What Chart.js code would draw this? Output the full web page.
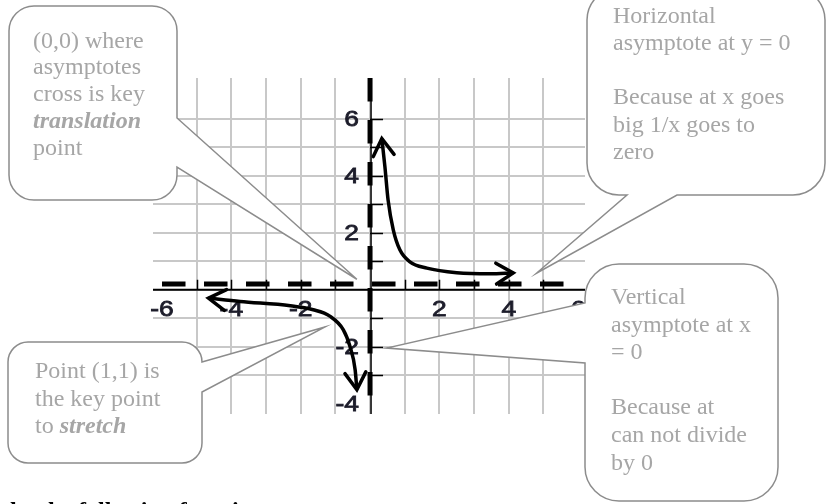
<!DOCTYPE html>
<html>
<head>
<meta charset="utf-8">
<script src="https://cdn.jsdelivr.net/npm/chart.js@4.4.0/dist/chart.umd.min.js"></script>
<style>
  body { margin: 0; background: #fff; }
  #wrap { position: relative; width: 831px; height: 504px; overflow: hidden; }
  #graph { position: absolute; left: 0; top: 0; }
  .note {
    position: absolute;
    font-family: "Liberation Serif", "Times New Roman", serif;
    font-size: 24px;
    color: #a6a6a6;
    white-space: pre;
  }
  .foot {
    position: absolute; left: 2px; top: 497px;
    font: bold 24px "Liberation Serif", serif;
    line-height: 27px; color: #000; white-space: pre;
  }
</style>
</head>
<body>
<div id="wrap">
  <canvas id="graph" width="831" height="504"></canvas>
  <div class="note" style="left:33px;top:26.5px;line-height:26.8px">(0,0) where
asymptotes
cross is key
<b><i>translation</i></b>
point</div>
  <div class="note" style="left:613px;top:1.8px;line-height:27.2px">Horizontal
asymptote at y = 0

Because at x goes
big 1/x goes to
zero</div>
  <div class="note" style="left:611px;top:283px;line-height:27.6px">Vertical
asymptote at x
= 0

Because at
can not divide
by 0</div>
  <div class="note" style="left:35px;top:357px;line-height:27.7px">Point (1,1) is
the key point
to <b><i>stretch</i></b></div>
  <div class="foot">the the following functions</div>
</div>
<script>
// Axis ranges
const xRange = [-6.26, 6.2];
const yRange = [-4.35, 7.42];

// Tick labels
const xTickValues = [-6, -4, -2, 2, 4, 6];
const xTickLabels = ['-6', '-4', '-2', '2', '4', '6'];
const yTickValues = [6, 4, 2, -2, -4];
const yTickLabels = ['6', '4', '2', '-2', '-4'];

// Hand drawn y = 1/x branches
const upperX = [0.34, 0.43, 0.52, 0.67, 0.86, 1.15, 1.64, 2.5, 3.46, 4.13];
const upperY = [5.3, 4.3, 3.15, 2.1, 1.4, 0.98, 0.76, 0.6, 0.56, 0.59];
const lowerX = [-4.66, -3.75, -2.3, -1.64, -1.15, -0.77, -0.58, -0.43, -0.38];
const lowerY = [-0.29, -0.41, -0.56, -0.7, -0.93, -1.4, -1.98, -2.8, -3.5];

// Dashed asymptotes
const hAsymX = [-6, 6];
const hAsymY = [0.2, 0.2];
const vAsymX = [0, 0];
const vAsymY = [7.42, -4.35];

// Where each callout points (data units)
const tipX = [-0.38, 4.8, 0.48, -1.3];
const tipY = [0.37, 0.58, -2.04, -1.3];

// Callout boxes (page layout, px)
const boxes = [
  { l: 9, t: 6, r: 177, b: 200, rad: 25, side: 'right', s1: 118, s2: 167 },
  { l: 587, t: -12, r: 825, b: 195, rad: 32, side: 'bottom', s1: 627, s2: 677 },
  { l: 585, t: 264, r: 778, b: 501, rad: 34, side: 'left', s1: 303, s2: 363 },
  { l: 8, t: 342, r: 202, b: 463, rad: 20, side: 'right', s1: 362, s2: 392 }
];

const toPoints = (xs, ys) => xs.map((v, i) => ({ x: v, y: ys[i] }));
const isWhole = v => Math.abs(v - Math.round(v)) < 1e-6;

function calloutPath(ctx, b, tip) {
  const { l, t, r, rad, side, s1, s2 } = b;
  const bt = b.b;
  ctx.beginPath();
  ctx.moveTo(l + rad, t);
  ctx.lineTo(r - rad, t);
  ctx.arcTo(r, t, r, t + rad, rad);
  if (side === 'right') { ctx.lineTo(r, s1); ctx.lineTo(tip.x, tip.y); ctx.lineTo(r, s2); }
  ctx.lineTo(r, bt - rad);
  ctx.arcTo(r, bt, r - rad, bt, rad);
  if (side === 'bottom') { ctx.lineTo(s2, bt); ctx.lineTo(tip.x, tip.y); ctx.lineTo(s1, bt); }
  ctx.lineTo(l + rad, bt);
  ctx.arcTo(l, bt, l, bt - rad, rad);
  if (side === 'left') { ctx.lineTo(l, s2); ctx.lineTo(tip.x, tip.y); ctx.lineTo(l, s1); }
  ctx.lineTo(l, t + rad);
  ctx.arcTo(l, t, l + rad, t, rad);
  ctx.closePath();
}

function drawArrow(ctx, tip, from) {
  const a = Math.atan2(tip.y - from.y, tip.x - from.x);
  const len = 20, spread = 0.55;
  ctx.beginPath();
  ctx.moveTo(tip.x - len * Math.cos(a - spread), tip.y - len * Math.sin(a - spread));
  ctx.lineTo(tip.x, tip.y);
  ctx.lineTo(tip.x - len * Math.cos(a + spread), tip.y - len * Math.sin(a + spread));
  ctx.stroke();
}

// label with a faint outline so it reads as heavy as the scanned digits
function heavyText(ctx, txt, px, py, align) {
  ctx.save();
  ctx.translate(px, py);
  ctx.scale(1.2, 1);
  ctx.textAlign = align;
  ctx.fillText(txt, 0, 0);
  ctx.strokeText(txt, 0, 0);
  ctx.restore();
}

const graphDecor = {
  id: 'graphDecor',
  beforeDatasetsDraw(chart) {
    const { ctx, chartArea: area, scales: { x, y } } = chart;
    const x0 = x.getPixelForValue(0);
    const y0 = y.getPixelForValue(0);
    ctx.save();
    ctx.strokeStyle = '#000';

    // axis lines
    ctx.lineWidth = 2;
    ctx.beginPath();
    ctx.moveTo(area.left, y0);
    ctx.lineTo(area.right, y0);
    ctx.stroke();
    ctx.lineWidth = 1.5;
    ctx.beginPath();
    ctx.moveTo(x0 + 1, area.top);
    ctx.lineTo(x0 + 1, area.bottom);
    ctx.stroke();

    // small tick marks
    ctx.beginPath();
    x.ticks.forEach(t => {
      if (!isWhole(t.value) || t.value === 0) return;
      const px = Math.round(x.getPixelForValue(t.value)) + 0.5;
      ctx.moveTo(px, y0);
      ctx.lineTo(px, y0 - 10);
    });
    y.ticks.forEach(t => {
      if (!isWhole(t.value) || t.value === 0) return;
      const py = Math.round(y.getPixelForValue(t.value)) + 0.5;
      ctx.moveTo(x0, py);
      ctx.lineTo(x0 + 13, py);
    });
    ctx.stroke();

    // tick labels
    ctx.fillStyle = '#1c1c2a';
    ctx.strokeStyle = '#1c1c2a';
    ctx.lineWidth = 0.8;
    ctx.font = '22px "Liberation Sans", Arial, sans-serif';
    ctx.textBaseline = 'middle';
    xTickValues.forEach((v, i) => {
      heavyText(ctx, xTickLabels[i], x.getPixelForValue(v), y0 + 20, 'center');
    });
    yTickValues.forEach((v, i) => {
      heavyText(ctx, yTickLabels[i], x0 - 11, y.getPixelForValue(v) + 1, 'right');
    });
    ctx.restore();
  },
  afterDatasetsDraw(chart) {
    const { ctx } = chart;
    ctx.save();
    ctx.strokeStyle = '#000';
    ctx.lineWidth = 3.5;
    ctx.lineCap = 'round';
    ctx.lineJoin = 'miter';
    [0, 1].forEach(i => {
      const pts = chart.getDatasetMeta(i).data;
      const n = pts.length;
      drawArrow(ctx, pts[0], pts[1]);
      drawArrow(ctx, pts[n - 1], pts[n - 2]);
    });
    ctx.restore();
  },
  afterDraw(chart) {
    const { ctx, scales: { x, y } } = chart;
    ctx.save();
    ctx.fillStyle = '#fff';
    ctx.strokeStyle = '#8c8c8c';
    ctx.lineWidth = 1.5;
    boxes.forEach((b, i) => {
      const tip = { x: x.getPixelForValue(tipX[i]), y: y.getPixelForValue(tipY[i]) };
      calloutPath(ctx, b, tip);
      ctx.fill();
      ctx.stroke();
    });
    ctx.restore();
  }
};

const gridColor = c => (c.tick && isWhole(c.tick.value)) ? '#c8c8c8' : 'rgba(0,0,0,0)';

new Chart(document.getElementById('graph'), {
  type: 'scatter',
  data: {
    datasets: [
      {
        data: toPoints(upperX, upperY),
        showLine: true, borderColor: '#000', borderWidth: 3.5,
        pointRadius: 0, cubicInterpolationMode: 'monotone', order: 0
      },
      {
        data: toPoints(lowerX, lowerY),
        showLine: true, borderColor: '#000', borderWidth: 3.5,
        pointRadius: 0, cubicInterpolationMode: 'monotone', order: 0
      },
      {
        data: toPoints(hAsymX, hAsymY),
        showLine: true, borderColor: '#000', borderWidth: 5,
        borderDash: [23.5, 18.5], borderCapStyle: 'butt', pointRadius: 0, order: 1
      },
      {
        data: toPoints(vAsymX, vAsymY),
        showLine: true, borderColor: '#000', borderWidth: 5,
        borderDash: [23.5, 18.5], borderCapStyle: 'butt', pointRadius: 0, order: 1
      }
    ]
  },
  options: {
    responsive: false,
    animation: false,
    events: [],
    layout: { padding: { left: 153, top: 78, right: 246, bottom: 90 } },
    plugins: { legend: { display: false }, tooltip: { enabled: false } },
    scales: {
      x: {
        type: 'linear', min: xRange[0], max: xRange[1],
        ticks: { display: false, stepSize: 1 },
        grid: { color: gridColor, lineWidth: 2, drawTicks: false },
        border: { display: false }
      },
      y: {
        type: 'linear', min: yRange[0], max: yRange[1],
        ticks: { display: false, stepSize: 1 },
        grid: { color: gridColor, lineWidth: 2, drawTicks: false },
        border: { display: false }
      }
    }
  },
  plugins: [graphDecor]
});
</script>
</body>
</html>
